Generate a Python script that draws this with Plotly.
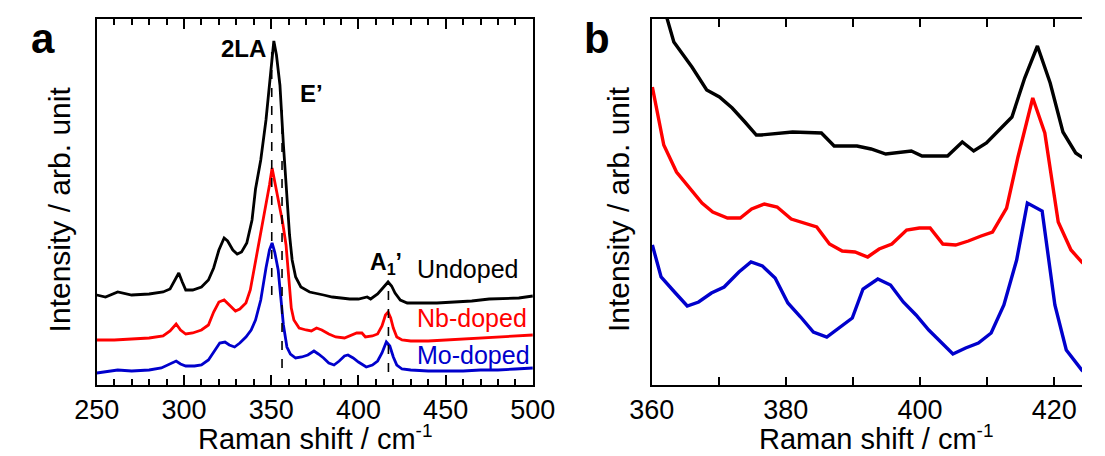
import plotly.graph_objects as go

W, H = 1105, 456
FONT = "Liberation Sans, Arial, sans-serif"

# ---------------- Panel a data (Raman shift, intensity arb.) ----------------
a_undoped_x = [250, 255, 262, 270, 280, 288, 292, 295, 297, 299, 301, 305, 310, 314, 317, 320, 323, 325,
               328, 330.5, 333, 336, 339, 341, 344, 347, 349, 350.5, 351.5, 353, 355, 357, 359, 360.5,
               362, 364, 367, 372, 380, 385, 390, 395, 400, 405, 407, 411, 414, 417, 419, 421, 424, 428,
               435, 445, 455, 465, 475, 485, 492, 500]
a_undoped_y = [90, 88, 93, 90, 91, 93, 96, 105, 112, 103, 95, 95, 98, 105, 117, 135, 147, 144,
               135, 131, 133, 142, 165, 196, 225, 265, 300, 330, 344, 330, 300, 240, 190, 150,
               125, 108, 98, 93, 90, 88, 87, 86, 86, 88, 86, 91, 97, 103, 99, 92, 85, 82,
               82, 82, 83, 84, 86, 87, 87, 89]

a_nb_x = [250, 260, 270, 280, 288, 292, 295.5, 298, 301, 305, 310, 314, 317, 320, 323, 326, 329.5, 332,
          335.5, 338, 341, 344, 347, 349, 350.5, 352.5, 354.5, 356.5, 358.5, 360, 361.5, 363, 366, 370,
          373, 376, 379, 383, 387, 392, 396, 399, 402, 404, 408, 411, 413.5, 415.5, 417, 418.5, 420,
          422, 425, 430, 440, 450, 460, 470, 480, 490, 500]
a_nb_y = [45, 45, 46, 47, 49, 54, 61, 55, 51, 52, 55, 60, 73, 83, 85, 80, 74, 76,
          82, 95, 123, 150, 180, 200, 217, 200, 183, 163, 140, 110, 77, 65, 57, 55,
          54, 57, 55, 51, 48, 47, 50, 52, 52, 48, 49, 51, 59, 70, 73, 67, 57,
          48, 45, 44, 44, 45, 46, 47, 48, 49, 50]

a_mo_x = [250, 255, 262, 270, 280, 287, 292, 295.5, 298, 301, 306, 310, 314, 317, 320.5, 323.5, 326, 329,
          332, 335.5, 338.5, 341, 344, 347, 349, 350.5, 352, 354, 355.5, 357, 359, 361, 364, 367.5,
          371, 374.5, 377, 380, 383, 386, 389, 392, 394, 397, 400, 404.5, 408, 411, 413.5, 416, 418,
          420, 422, 425, 430, 440, 450, 460, 470, 480, 490, 500]
a_mo_y = [12, 13, 15, 14, 15, 17, 21, 24, 21, 19, 19, 20, 25, 33, 42, 43, 40, 38,
          42, 48, 55, 65, 85, 117, 135, 142, 133, 115, 85, 60, 38, 31, 27, 28,
          30, 34, 31, 27, 22, 20, 24, 29, 30, 27, 23, 18, 20, 24, 32, 43, 39,
          28, 20, 16, 15, 14, 14, 14, 15, 15, 16, 17]

# dashed peak markers in panel a: position, bottom, top (same units as intensity)
a_peak_pos = [350.3, 356.2, 417.2]
a_peak_bottom = [90, 17, 13]
a_peak_top = [342, 275, 102]

# ---------------- Panel b data ----------------
b_undoped_x = [360, 362.3, 363.3, 366.0, 368.2, 370.1, 372.0, 373.9, 375.6, 376.3, 380.1, 381.0, 385.3,
               387.2, 390.6, 392.7, 394.9, 398.7, 400.3, 404.1, 406.3, 408.0, 409.9, 411.8, 413.7,
               415.6, 417.5, 419.4, 421.3, 423.2, 424.1, 426]
b_undoped_y = [420, 365, 343, 318, 295, 288, 277, 263, 250, 250, 253, 253, 252,
               239, 239, 236, 231, 234, 229, 229, 243, 234, 242, 255, 268,
               307, 339, 302, 253, 232, 228, 222]

b_nb_x = [360.1, 361.8, 363.7, 365.6, 367.5, 369.1, 371.3, 373.2, 374.9, 376.8, 378.7, 380.8, 382.7,
          384.6, 386.5, 388.4, 390.3, 392.2, 393.9, 395.8, 398.0, 399.9, 401.5, 403.4, 405.3, 407.2,
          409.1, 410.8, 412.9, 414.6, 416.8, 418.6, 420.6, 422.5, 424.1, 426]
b_nb_y = [298, 240, 213, 198, 182, 173, 167, 167, 176, 181, 178, 166, 162,
          158, 141, 134, 133, 128, 136, 141, 155, 157, 157, 141, 140, 144,
          149, 153, 177, 228, 287, 252, 163, 135, 123, 112]

b_mo_x = [360.1, 361.4, 363.4, 365.3, 367.0, 368.9, 370.8, 373.0, 374.8, 376.5, 378.4, 380.3, 382.2,
          384.1, 386.1, 388.2, 389.9, 391.5, 393.7, 395.6, 397.5, 399.4, 401.3, 404.9, 406.8, 408.7,
          410.6, 412.5, 414.4, 416.0, 418.2, 420.1, 421.8, 424.1, 426]
b_mo_y = [140, 108, 93, 79, 83, 92, 98, 113, 123, 119, 107, 82, 68,
          53, 48, 58, 67, 96, 106, 100, 83, 70, 55, 31, 37, 42,
          52, 80, 125, 182, 174, 80, 35, 15, 5]

BLACK, RED, BLUE = "#000000", "#FF0000", "#0000CC"

fig = go.Figure()
for xs, ys, c in [(a_undoped_x, a_undoped_y, BLACK), (a_nb_x, a_nb_y, RED), (a_mo_x, a_mo_y, BLUE)]:
    fig.add_trace(go.Scatter(x=xs, y=ys, mode="lines", line=dict(color=c, width=2.8),
                             xaxis="x", yaxis="y", showlegend=False, hoverinfo="skip"))
for xs, ys, c in [(b_undoped_x, b_undoped_y, BLACK), (b_nb_x, b_nb_y, RED), (b_mo_x, b_mo_y, BLUE)]:
    fig.add_trace(go.Scatter(x=xs, y=ys, mode="lines", line=dict(color=c, width=3.4),
                             xaxis="x2", yaxis="y2", showlegend=False, hoverinfo="skip"))

for px, y0, y1 in zip(a_peak_pos, a_peak_bottom, a_peak_top):
    fig.add_shape(type="line", xref="x", yref="y", x0=px, x1=px, y0=y0, y1=y1,
                  line=dict(color="black", width=1.6, dash="dash"), layer="above")

def px2x(p):
    return p / W

def px2y(p):
    return 1 - p / H

ya_dom = [px2y(385), px2y(19)]
axis_common = dict(showline=True, linecolor="black", linewidth=2, showgrid=False, zeroline=False,
                   ticks="inside", tickcolor="black", tickwidth=2,
                   tickfont=dict(family=FONT, size=27, color="black"))

fig.update_layout(
    width=W, height=H, margin=dict(l=0, r=0, t=0, b=0), autosize=False,
    paper_bgcolor="white", plot_bgcolor="white",
    font=dict(family=FONT, color="black"),
    xaxis=dict(domain=[px2x(77), px2x(532)], range=[250, 500], anchor="y",
               tickmode="array", tickvals=[250, 300, 350, 400, 450, 500], ticklen=10,
               mirror="ticks",
               minor=dict(dtick=10, tick0=250, ticks="inside", ticklen=6, tickwidth=2, tickcolor="black",
                          showgrid=False),
               **axis_common),
    yaxis=dict(domain=ya_dom, range=[0, 366], anchor="x", showticklabels=False,
               showline=True, linecolor="black", linewidth=2, mirror=True, ticks="",
               showgrid=False, zeroline=False),
    xaxis2=dict(domain=[px2x(656), 1.0], range=[360, 360 + 449 / 7], anchor="y2",
                tickmode="array", tickvals=[360, 380, 400, 420], ticklen=8, mirror="ticks",
                minor=dict(dtick=10, tick0=360, ticks="inside", ticklen=8, tickwidth=2, tickcolor="black",
                           showgrid=False),
                **axis_common),
    yaxis2=dict(domain=ya_dom, range=[0, 366], anchor="x2", showticklabels=False,
                showline=True, linecolor="black", linewidth=2, mirror=False, ticks="",
                showgrid=False, zeroline=False),
)

ann = []
def add(text, x, y, size, bold=False, color="black", xanchor="center", yanchor="middle", angle=0):
    ann.append(dict(text=("<b>%s</b>" % text) if bold else text, x=px2x(x), y=px2y(y),
                    xref="paper", yref="paper", showarrow=False, xanchor=xanchor, yanchor=yanchor,
                    textangle=angle, font=dict(family=FONT, size=size, color=color)))

XT = "Raman shift / cm<sup><span style='font-size:19px'>-1</span></sup>"
add("a", 21, 38, 42, bold=True)
add("b", 599, 38, 42, bold=True)
add("2LA", 230, 49, 24, bold=True)
add("E’", 301, 93, 24, bold=True)
add("A<sub>1</sub>’", 360, 263, 23, bold=True, xanchor="left")
add("Undoped", 409, 269, 25, xanchor="left")
add("Nb-doped", 409, 318, 25, color=RED, xanchor="left")
add("Mo-doped", 409, 355, 25, color=BLUE, xanchor="left")
add("Intensity / arb. unit", 39, 209, 30, angle=-90)
add("Intensity / arb. unit", 622, 209, 30, angle=-90)
add(XT, 305, 457, 29, yanchor="bottom")
add(XT, 890, 457, 29, yanchor="bottom")
fig.update_layout(annotations=ann)

fig.write_html(
    "out.html",
    config={"responsive": False},
    post_script="document.documentElement.style.margin='0';document.body.style.margin='0';"
                "document.body.style.overflow='hidden';document.documentElement.style.overflow='hidden';",
)
